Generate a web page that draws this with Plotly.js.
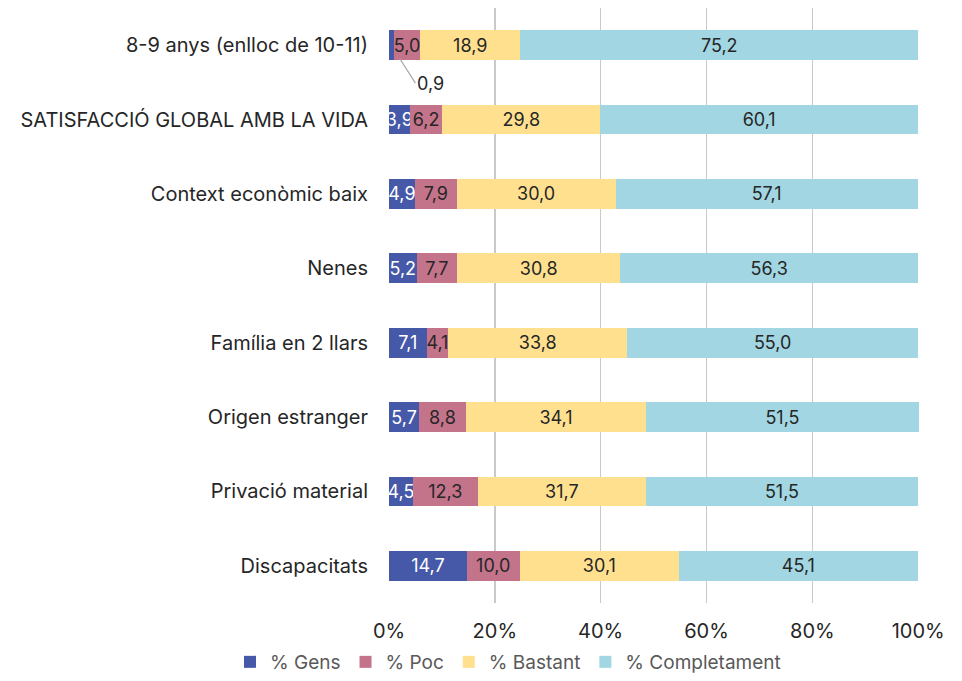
<!DOCTYPE html>
<html>
<head>
<meta charset="utf-8">
<script src="https://cdn.plot.ly/plotly-3.0.1.min.js"></script>
<style>html,body{margin:0;padding:0;background:#fff;}#chart{width:962px;height:681px;}</style>
</head>
<body>
<div id="chart"></div>
<script>
const categories = [
  "8-9 anys (enlloc de 10-11)",
  "SATISFACCIÓ GLOBAL AMB LA VIDA",
  "Context econòmic baix",
  "Nenes",
  "Família en 2 llars",
  "Origen estranger",
  "Privació material",
  "Discapacitats"
];
const gens = [0.9, 3.9, 4.9, 5.2, 7.1, 5.7, 4.5, 14.7];
const poc = [5.0, 6.2, 7.9, 7.7, 4.1, 8.8, 12.3, 10.0];
const bastant = [18.9, 29.8, 30.0, 30.8, 33.8, 34.1, 31.7, 30.1];
const completament = [75.2, 60.1, 57.1, 56.3, 55.0, 51.5, 51.5, 45.1];
const seriesNames = ["% Gens", "% Poc", "% Bastant", "% Completament"];
const tickValues = [0, 20, 40, 60, 80, 100];
const tickLabels = ["0%", "20%", "40%", "60%", "80%", "100%"];
const colors = ["#4659A8", "#C4748A", "#FFE08F", "#A1D6E2"];
const textColors = ["#ffffff", "#262626", "#262626", "#262626"];

const fmt = v => v.toFixed(1).replace('.', ',');
const FONT = "Inter, 'Open Sans', sans-serif";

const allVals = [gens, poc, bastant, completament];
const traces = allVals.map((vals, i) => ({
  type: 'bar',
  orientation: 'h',
  name: seriesNames[i],
  y: categories,
  x: vals,
  marker: {color: colors[i]},
  width: 0.4,
  text: vals.map((v, j) => (i === 0 && j === 0) ? '' : fmt(v)),
  textposition: 'inside',
  insidetextanchor: 'middle',
  constraintext: 'none',
  textangle: 0,
  textfont: {family: FONT, size: 18, color: textColors[i]},
  hoverinfo: 'skip',
  cliponaxis: false
}));

const layout = {
  width: 962,
  height: 681,
  margin: {l: 389, r: 43, t: 8, b: 78, autoexpand: false},
  barmode: 'stack',
  paper_bgcolor: '#ffffff',
  plot_bgcolor: '#ffffff',
  font: {family: FONT, size: 20, color: '#262626'},
  xaxis: {
    range: [0, 100.15],
    tickmode: 'array',
    tickvals: tickValues,
    ticktext: tickLabels,
    showgrid: true,
    gridcolor: '#c9c9c9',
    gridwidth: 1.5,
    zeroline: false,
    showline: false,
    ticks: '',
    ticklabelstandoff: 14,
    tickfont: {family: FONT, size: 20, color: '#262626'},
    fixedrange: true,
    automargin: false
  },
  yaxis: {
    type: 'category',
    range: [7.5, -0.5],
    showgrid: false,
    zeroline: false,
    ticks: '',
    ticklabelstandoff: 20,
    tickfont: {family: FONT, size: 20, color: '#262626'},
    fixedrange: true,
    automargin: false
  },
  showlegend: true,
  legend: {
    orientation: 'h',
    xref: 'paper',
    yref: 'paper',
    x: -0.30,
    xanchor: 'left',
    y: -0.1311,
    yanchor: 'bottom',
    font: {family: FONT, size: 19, color: '#595959'},
    itemwidth: 30,
    traceorder: 'normal'
  },
  annotations: [{
    x: gens[0] / 2,
    y: categories[0],
    xref: 'x',
    yref: 'y',
    text: fmt(gens[0]),
    showarrow: true,
    arrowhead: 0,
    arrowwidth: 1.2,
    arrowcolor: '#a6a6a6',
    ax: 24,
    ay: 38,
    standoff: 16,
    font: {family: FONT, size: 18, color: '#262626'},
    xanchor: 'left'
  }]
};

Plotly.newPlot('chart', traces, layout, {displayModeBar: false, staticPlot: true});
</script>
</body>
</html>
